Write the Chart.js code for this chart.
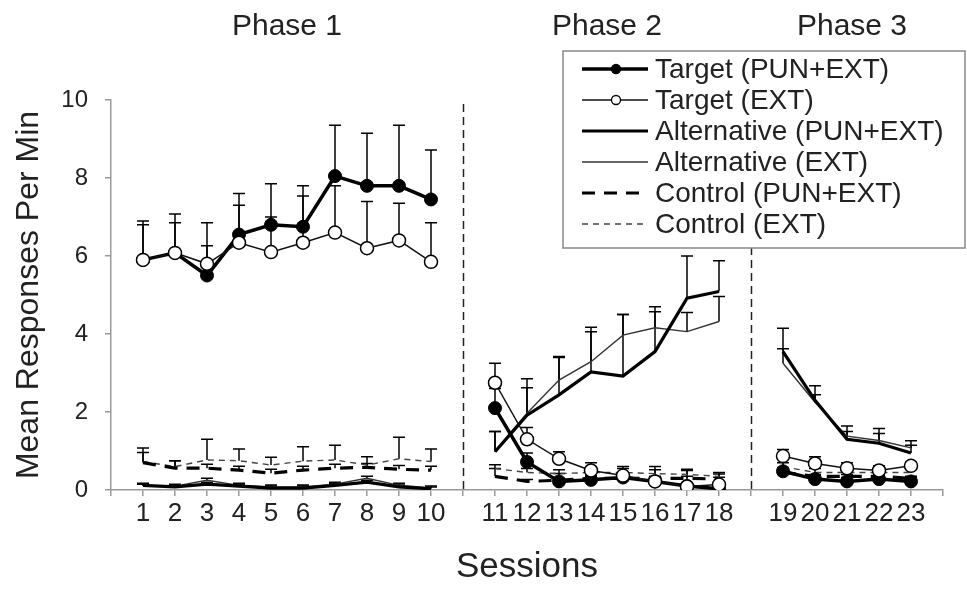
<!DOCTYPE html>
<html>
<head>
<meta charset="utf-8">
<script src="https://cdn.jsdelivr.net/npm/chart.js@4.4.0/dist/chart.umd.min.js"></script>
<style>
  html, body { margin: 0; padding: 0; background: #fff; }
  #wrap { width: 967px; height: 594px; }
</style>
</head>
<body>
<div id="wrap"><canvas id="chart" width="967" height="594"></canvas></div>
<script>
// ---------- DATA ----------
const phaseNames = ['Phase 1', 'Phase 2', 'Phase 3'];
const phaseSessions = [
  ['1', '2', '3', '4', '5', '6', '7', '8', '9', '10'],
  ['11', '12', '13', '14', '15', '16', '17', '18'],
  ['19', '20', '21', '22', '23']
];
// axis slots: an empty slot at each end and between phases
const xLabels = [''].concat(phaseSessions[0], [''], phaseSessions[1], [''], phaseSessions[2], ['']);
const yTicks = [0, 2, 4, 6, 8, 10];

// means, sessions 1-23
const targetPun = [5.9, 6.08, 5.5, 6.55, 6.8, 6.75, 8.05, 7.8, 7.8, 7.45,
                   2.1, 0.72, 0.22, 0.26, 0.32, 0.22, 0.1, 0.03,
                   0.48, 0.28, 0.22, 0.28, 0.22];
const targetExt = [5.9, 6.08, 5.8, 6.34, 6.1, 6.34, 6.6, 6.2, 6.4, 5.85,
                   2.75, 1.3, 0.8, 0.5, 0.37, 0.22, 0.09, 0.14,
                   0.87, 0.68, 0.56, 0.5, 0.62];
const altPun = [0.12, 0.08, 0.15, 0.1, 0.05, 0.05, 0.12, 0.2, 0.08, 0.03,
                0.98, 1.92, 2.44, 3.03, 2.92, 3.55, 4.92, 5.09,
                3.55, 2.3, 1.3, 1.2, 0.95];
const altExt = [0.1, 0.1, 0.25, 0.12, 0.08, 0.08, 0.15, 0.3, 0.12, 0.05,
                1.0, 1.97, 2.82, 3.29, 3.97, 4.16, 4.06, 4.32,
                3.25, 2.25, 1.38, 1.27, 1.08];
const ctrlPun = [0.7, 0.56, 0.56, 0.51, 0.43, 0.51, 0.56, 0.58, 0.53, 0.51,
                 0.35, 0.22, 0.25, 0.3, 0.3, 0.3, 0.3, 0.28,
                 0.45, 0.35, 0.35, 0.35, 0.3];
const ctrlExt = [0.73, 0.6, 0.77, 0.75, 0.64, 0.74, 0.77, 0.64, 0.8, 0.73,
                 0.55, 0.45, 0.42, 0.45, 0.45, 0.42, 0.4, 0.35,
                 0.6, 0.45, 0.45, 0.45, 0.45];

// upper error bars (SEM)
const targetPunErr = [1.0, 1.0, 1.35, 1.05, 1.05, 1.05, 1.3, 1.35, 1.55, 1.27,
                      0.5, 0.23, 0.2, 0.1, 0.1, 0.1, 0.05, 0.05,
                      0.1, 0.1, 0.1, 0.1, 0.1];
const targetExtErr = [0.9, 0.77, 0.46, 0.96, 0.9, 1.2, 1.2, 1.2, 0.95, 1.0,
                      0.5, 0.3, 0.18, 0.2, 0.23, 0.38, 0.44, 0.27,
                      0.17, 0.17, 0.14, 0.12, 0.1];
const altPunErr = [0.05, 0.05, 0.05, 0.05, 0.05, 0.05, 0.05, 0.05, 0.05, 0.05,
                   0.52, 0.93, 0.98, 1.03, 1.58, 1.02, 1.08, 0.79,
                   0.6, 0.37, 0.2, 0.25, 0.2];
const altExtErr = [0.05, 0.05, 0.05, 0.05, 0.05, 0.05, 0.05, 0.05, 0.05, 0.05,
                   0.5, 0.65, 0.58, 0.88, 0.53, 0.54, 0.49, 0.64,
                   0.37, 0.19, 0.26, 0.31, 0.18];
const ctrlPunErr = [0.26, 0.19, 0.1, 0.1, 0.1, 0.1, 0.1, 0.1, 0.1, 0.1,
                    0.2, 0.05, 0.05, 0.05, 0.05, 0.05, 0.05, 0.05,
                    0.05, 0.05, 0.05, 0.05, 0.05];
const ctrlExtErr = [0.35, 0.15, 0.53, 0.3, 0.2, 0.37, 0.38, 0.21, 0.55, 0.32,
                    0.1, 0.1, 0.1, 0.1, 0.1, 0.1, 0.1, 0.1,
                    0.1, 0.1, 0.1, 0.1, 0.1];

// ---------- HELPERS ----------
const FONT = "'Liberation Sans', Arial, sans-serif";
const allSessions = phaseSessions.flat();

// place 23 session values into the axis slots (null in the empty ones)
function toSlots(vals) {
  const out = xLabels.map(() => null);
  allSessions.forEach((s, i) => { out[xLabels.indexOf(s)] = vals[i]; });
  return out;
}

function series(label, vals, errs, style) {
  return Object.assign({
    label,
    data: toSlots(vals),
    errors: toSlots(errs),
    tension: 0,
    spanGaps: false,
    fill: false
  }, style);
}

// ---------- PLUGINS ----------
const errorBars = {
  id: 'errorBars',
  beforeDatasetsDraw(chart) {
    const ctx = chart.ctx;
    const y = chart.scales.y;
    ctx.save();
    ctx.strokeStyle = '#000';
    ctx.lineWidth = 1.5;
    ctx.setLineDash([]);
    chart.data.datasets.forEach((ds, di) => {
      const meta = chart.getDatasetMeta(di);
      meta.data.forEach((pt, i) => {
        const v = ds.data[i], e = ds.errors[i];
        if (v == null || e == null) return;
        const top = y.getPixelForValue(v + e);
        ctx.beginPath();
        ctx.moveTo(pt.x, pt.y);
        ctx.lineTo(pt.x, top);
        ctx.moveTo(pt.x - 6, top);
        ctx.lineTo(pt.x + 6, top);
        ctx.stroke();
      });
    });
    ctx.restore();
  }
};

const phaseMarks = {
  id: 'phaseMarks',
  beforeDatasetsDraw(chart) {
    const ctx = chart.ctx, x = chart.scales.x, area = chart.chartArea;
    ctx.save();
    ctx.strokeStyle = '#222';
    ctx.lineWidth = 1.5;
    ctx.setLineDash([8, 5]);
    xLabels.forEach((lab, i) => {
      if (lab !== '' || i === 0 || i === xLabels.length - 1) return;
      const px = Math.round(x.getPixelForValue(i)) + 0.5;
      ctx.beginPath();
      ctx.moveTo(px, area.top + 4);
      ctx.lineTo(px, area.bottom);
      ctx.stroke();
    });
    ctx.restore();
  },
  afterDraw(chart) {
    const ctx = chart.ctx, x = chart.scales.x;
    ctx.save();
    ctx.fillStyle = '#222';
    ctx.font = '30px ' + FONT;
    ctx.textAlign = 'center';
    ctx.textBaseline = 'middle';
    phaseNames.forEach((name, p) => {
      const s = phaseSessions[p];
      const a = x.getPixelForValue(xLabels.indexOf(s[0]));
      const b = x.getPixelForValue(xLabels.indexOf(s[s.length - 1]));
      ctx.fillText(name, (a + b) / 2 + (p === 2 ? 5 : 0), 27);
    });
    ctx.restore();
  }
};

const boxLegend = {
  id: 'boxLegend',
  afterDraw(chart) {
    const ctx = chart.ctx;
    const bx = 563, by = 51, bw = 402, bh = 197, row = 31;
    ctx.save();
    ctx.fillStyle = '#fff';
    ctx.fillRect(bx, by, bw, bh);
    ctx.strokeStyle = '#888';
    ctx.lineWidth = 1.5;
    ctx.strokeRect(bx, by, bw, bh);
    ctx.font = '28px ' + FONT;
    ctx.textBaseline = 'middle';
    chart.data.datasets.forEach((ds, i) => {
      const cy = by + 18 + i * row;
      ctx.strokeStyle = ds.borderColor;
      ctx.lineWidth = ds.borderWidth;
      ctx.setLineDash(ds.borderDash || []);
      ctx.beginPath();
      ctx.moveTo(bx + 19, cy);
      ctx.lineTo(bx + 85, cy);
      ctx.stroke();
      ctx.setLineDash([]);
      if (ds.pointRadius > 0) {
        ctx.beginPath();
        ctx.arc(bx + 53, cy, 4.5, 0, Math.PI * 2);
        ctx.fillStyle = ds.pointBackgroundColor;
        ctx.fill();
        ctx.lineWidth = 1.3;
        ctx.strokeStyle = '#000';
        ctx.stroke();
      }
      ctx.fillStyle = '#222';
      ctx.fillText(ds.label, bx + 92, cy + 1);
    });
    ctx.restore();
  }
};

// ---------- CHART ----------
const datasets = [
  series('Target (PUN+EXT)', targetPun, targetPunErr, {
    borderColor: '#000', borderWidth: 3.5, order: 1,
    pointRadius: 6.5, pointBackgroundColor: '#000', pointBorderColor: '#000', pointBorderWidth: 1
  }),
  series('Target (EXT)', targetExt, targetExtErr, {
    borderColor: '#111', borderWidth: 1.5, order: 0,
    pointRadius: 6.5, pointBackgroundColor: '#fff', pointBorderColor: '#000', pointBorderWidth: 1.5
  }),
  series('Alternative (PUN+EXT)', altPun, altPunErr, {
    borderColor: '#000', borderWidth: 3.2, order: 2, pointRadius: 0
  }),
  series('Alternative (EXT)', altExt, altExtErr, {
    borderColor: '#333', borderWidth: 1.4, order: 3, pointRadius: 0
  }),
  series('Control (PUN+EXT)', ctrlPun, ctrlPunErr, {
    borderColor: '#000', borderWidth: 3.2, borderDash: [13, 9], order: 4, pointRadius: 0
  }),
  series('Control (EXT)', ctrlExt, ctrlExtErr, {
    borderColor: '#444', borderWidth: 1.4, borderDash: [6, 5], order: 5, pointRadius: 0
  })
];

Chart.defaults.font.family = FONT;

new Chart(document.getElementById('chart'), {
  type: 'line',
  data: { labels: xLabels, datasets },
  options: {
    responsive: false,
    animation: false,
    events: [],
    layout: { padding: { top: 100, right: 24, left: 0, bottom: 0 } },
    plugins: { legend: { display: false }, tooltip: { enabled: false } },
    scales: {
      x: {
        type: 'category',
        offset: false,
        ticks: { autoSkip: false, maxRotation: 0, minRotation: 0, font: { size: 26 }, color: '#222', padding: 2 },
        grid: { drawOnChartArea: false, drawTicks: true, tickLength: 6, color: '#999', lineWidth: 1.5 },
        border: { color: '#999', width: 1.5 },
        title: { display: true, text: 'Sessions', font: { size: 35 }, color: '#222', padding: { top: 0, bottom: 6 } },
        afterFit(scale) { scale.height = 104; }
      },
      y: {
        min: yTicks[0],
        max: yTicks[yTicks.length - 1],
        afterBuildTicks(scale) { scale.ticks = yTicks.map(v => ({ value: v })); },
        ticks: { font: { size: 24 }, color: '#222', padding: 17 },
        grid: { drawOnChartArea: false, drawTicks: true, tickLength: 6, color: '#999', lineWidth: 1.5 },
        border: { color: '#999', width: 1.5 },
        title: { display: true, text: 'Mean Responses Per Min', font: { size: 32 }, color: '#222', padding: { top: 10, bottom: 0 } },
        afterFit(scale) { scale.width = 111; }
      }
    }
  },
  plugins: [phaseMarks, errorBars, boxLegend]
});
</script>
</body>
</html>
